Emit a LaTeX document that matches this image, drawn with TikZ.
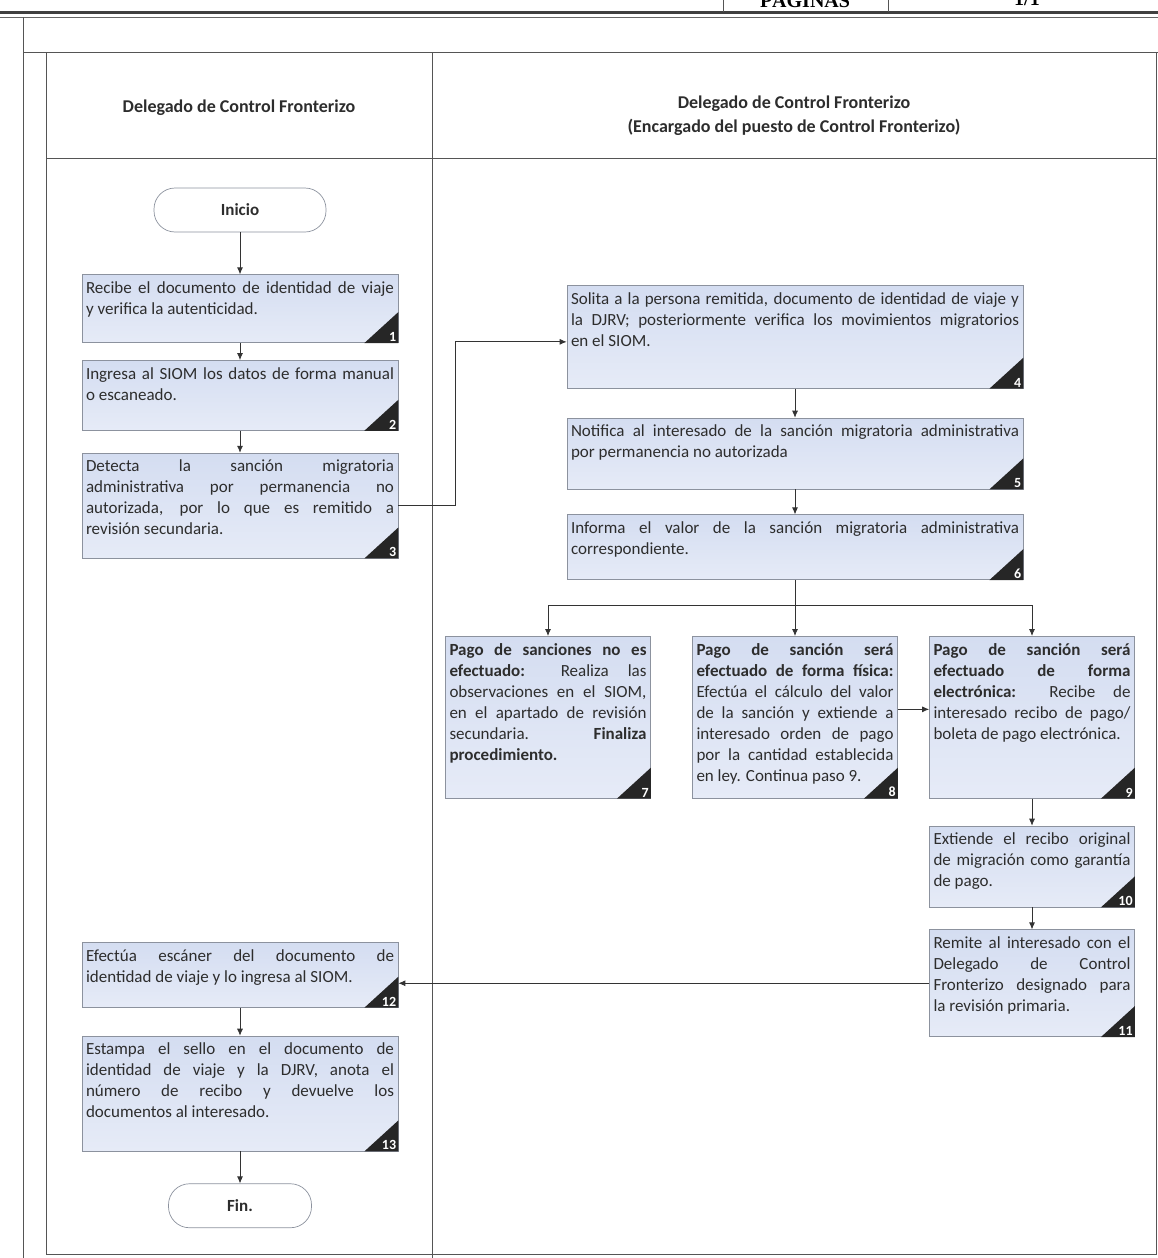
\documentclass[tikz,border=0pt]{standalone}
\usepackage{fontspec}
\setmainfont{Carlito}
\newfontfamily\serifhdr{Liberation Serif}
\usetikzlibrary{arrows.meta,positioning}
\definecolor{boxfill}{RGB}{212,221,241}
\definecolor{boxfilllow}{RGB}{230,235,247}
\definecolor{boxline}{RGB}{140,146,158}
\definecolor{frameline}{RGB}{85,85,85}
\definecolor{txtclr}{RGB}{45,45,45}
\hyphenpenalty=10000 \exhyphenpenalty=10000
\tolerance=10000 \hbadness=10000 \vbadness=10000
\newcommand{\steptext}[3]{\parbox[c][#1pt][t]{#2pt}{#3}}
\tikzset{
  stepbox/.style={draw=boxline, line width=0.7pt, top color=boxfill, bottom color=boxfilllow, inner xsep=4pt, inner ysep=7pt, text=txtclr, font=\fontsize{17}{21}\selectfont},
  termnode/.style={draw=boxline, line width=0.7pt, fill=white, rounded corners=21pt, minimum height=44pt, font=\bfseries\fontsize{17}{21}\selectfont, text=txtclr},
  arrow/.style={-{Latex[length=7pt,width=6pt]}, line width=0.8pt, draw=black!80},
  badge/.style={anchor=south east, text=white, inner xsep=2pt, inner ysep=1.5pt, font=\bfseries\fontsize{14}{14}\selectfont},
  frame/.style={draw=frameline, line width=1pt},
  lanehead/.style={font=\bfseries\fontsize{18}{24}\selectfont, text=txtclr, align=center}
}

\begin{document}
\begin{tikzpicture}[x=1pt, y=-1pt]
  \useasboundingbox (0,0) rectangle (1158,1258);

  % page header
  \draw[line width=3pt, black!75] (0,12) -- (1158,12);
  \draw[line width=0.8pt, black!60] (0,17) -- (1158,17);
  \draw[frame] (723,0) -- (723,12);
  \draw[frame] (888,0) -- (888,12);
  \node[font=\serifhdr\bfseries\fontsize{20}{20}\selectfont] (pag) at (805,-1) {PÁGINAS};
  \node[font=\serifhdr\bfseries\fontsize{20}{20}\selectfont] (num) at (1027,-1) {1/1};

  % lanes
  \draw[frame] (23,17) -- (23,1258);
  \draw[frame] (23,52) -- (1158,52);
  \draw[frame] (46,52) rectangle (1156,1254);
  \draw[frame] (46,158) -- (1156,158);
  \draw[frame] (432,52) -- (432,1258);
  \node[lanehead] (hleft) at (239,108) {Delegado de Control Fronterizo};
  \node[lanehead] (hright) at (794,116) {Delegado de Control Fronterizo\\(Encargado del puesto de Control Fronterizo)};

  % left lane
  \node[termnode, minimum width=172pt] (inicio) at (240,210) {Inicio};
  \node[stepbox, below=42pt of inicio] (b1) {\steptext{54}{308}{Recibe el documento de identidad de viaje \linebreak y verifica la autenticidad.}};
  \node[stepbox, below=17pt of b1] (b2) {\steptext{56}{308}{Ingresa al SIOM los datos de forma manual \linebreak o escaneado.}};
  \node[stepbox, below=22pt of b2] (b3) {\steptext{91}{308}{Detecta la sanción migratoria \linebreak administrativa por permanencia no \linebreak autorizada, por lo que es remitido a \linebreak revisión secundaria.}};

  % right lane
  \node[stepbox, anchor=north] (b4) at (795,285) {\steptext{89}{448}{Solita a la persona remitida, documento de identidad de viaje y \linebreak la DJRV; posteriormente verifica los movimientos migratorios \linebreak en el SIOM.}};
  \node[stepbox, below=29pt of b4] (b5) {\steptext{57}{448}{Notifica al interesado de la sanción migratoria administrativa \linebreak por permanencia no autorizada}};
  \node[stepbox, below=25pt of b5] (b6) {\steptext{51}{448}{Informa el valor de la sanción migratoria administrativa \linebreak correspondiente.}};

  \node[stepbox, anchor=north] (b7) at (548,636) {\steptext{148}{197}{\textbf{Pago de sanciones no es \linebreak efectuado:} Realiza las \linebreak observaciones en el SIOM, \linebreak en el apartado de revisión \linebreak secundaria. \textbf{Finaliza \linebreak procedimiento.}}};
  \node[stepbox, anchor=north] (b8) at (795,636) {\steptext{148}{197}{\textbf{Pago de sanción será \linebreak efectuado de forma física:} \linebreak Efectúa el cálculo del valor \linebreak de la sanción y extiende a \linebreak interesado orden de pago \linebreak por la cantidad establecida \linebreak en ley. Continua paso 9.}};
  \node[stepbox, anchor=north] (b9) at (1032,636) {\steptext{148}{197}{\textbf{Pago de sanción será \linebreak efectuado de forma \linebreak electrónica:} Recibe de \linebreak interesado recibo de pago/\linebreak boleta de pago electrónica.}};
  \node[stepbox, below=27pt of b9] (b10) {\steptext{67}{197}{Extiende el recibo original \linebreak de migración como garantía \linebreak de pago.}};
  \node[stepbox, below=22pt of b10] (b11) {\steptext{93}{197}{Remite al interesado con el \linebreak Delegado de Control \linebreak Fronterizo designado para \linebreak la revisión primaria.}};

  % back to left lane
  \node[stepbox, anchor=north] (b12) at (240,942) {\steptext{51}{308}{Efectúa escáner del documento de \linebreak identidad de viaje y lo ingresa al SIOM.}};
  \node[stepbox, below=28pt of b12] (b13) {\steptext{101}{308}{Estampa el sello en el documento de \linebreak identidad de viaje y la DJRV, anota el \linebreak número de recibo y devuelve los \linebreak documentos al interesado.}};
  \node[termnode, minimum width=143pt, below=32pt of b13] (fin) {Fin.};

  % step numbers
  \foreach \bx/\n in {b1/1,b2/2,b3/3,b4/4,b5/5,b6/6,b7/7,b8/8,b9/9,b10/10,b11/11,b12/12,b13/13}{
    \fill[black!85] (\bx.south east) -- ++(-34,0) -- ++(34,-31) -- cycle;
    \node[badge] at (\bx.south east) {\n};
  }

  % connectors
  \draw[arrow] (inicio) -- (b1);
  \draw[arrow] (b1) -- (b2);
  \draw[arrow] (b2) -- (b3);
  \draw[arrow] (b3.east) -- ++(57,0) |- ([yshift=-5pt]b4.west);
  \draw[arrow] (b4) -- (b5);
  \draw[arrow] (b5) -- (b6);
  \coordinate (split) at (795,605);
  \draw[arrow] (b6.south) -- (b8.north);
  \draw[arrow] (split) -| (b7.north);
  \draw[arrow] (split) -| (b9.north);
  \draw[arrow] ([yshift=8pt]b8.east) -- ([yshift=8pt]b9.west);
  \draw[arrow] (b9) -- (b10);
  \draw[arrow] (b10) -- (b11);
  \draw[arrow] (b11.west) -- (b11.west -| b12.east);
  \draw[arrow] (b12) -- (b13);
  \draw[arrow] (b13) -- (fin);
\end{tikzpicture}
\end{document}
